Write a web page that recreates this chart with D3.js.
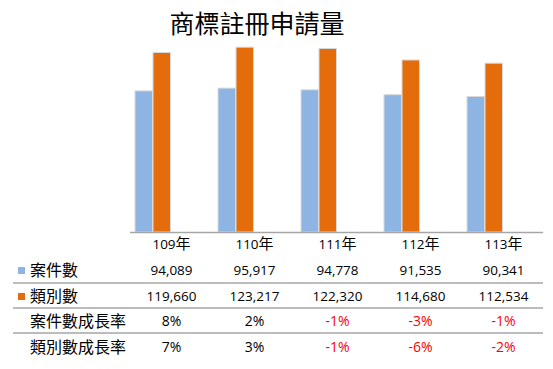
<!DOCTYPE html>
<html><head><meta charset="utf-8">
<script src="https://cdn.jsdelivr.net/npm/d3@7"></script>
<style>body{margin:0;background:#fff}</style>
</head><body>
<script>
const years = ["109", "110", "111", "112", "113"];
const yearSuffix = "年";
const cases = [94089, 95917, 94778, 91535, 90341];
const classes = [119660, 123217, 122320, 114680, 112534];
const caseGrowth = [8, 2, -1, -3, -1];
const classGrowth = [7, 3, -1, -6, -2];
const seriesNames = ["案件數", "類別數"];
const growthNames = ["案件數成長率", "類別數成長率"];
const title = "商標註冊申請量";
const colors = ["#8DB4E2", "#E46C0A"];

const W = 553, H = 369;
const svg = d3.select("body").append("svg").attr("width", W).attr("height", H);
const cjk = "'Noto Sans CJK TC', sans-serif";
const num = "'Open Sans', 'Noto Sans CJK TC', sans-serif";

svg.append("text").attr("x", 257).attr("y", 33).attr("text-anchor", "middle")
  .attr("font-family", cjk).attr("font-size", 25).attr("font-weight", 400).attr("fill", "#000").text(title);

const x = d3.scaleBand().domain(years).range([130, 545]).padding(0);
const xi = d3.scaleBand().domain([0, 1]).range([5, 41]).padding(0);
const y = d3.scaleLinear().domain([0, 140000]).range([232, 22]);

const series = [cases, classes];
series.forEach((vals, si) => {
  svg.append("g").selectAll("rect").data(vals).join("rect")
    .attr("x", (d, i) => x(years[i]) + xi(si))
    .attr("width", xi.bandwidth() - 0.5)
    .attr("y", d => y(d))
    .attr("height", d => y(0) - y(d))
    .attr("fill", colors[si])
    .attr("stroke", "#d9d9d9").attr("stroke-width", 1);
});

// axis line
svg.append("line").attr("x1", 130).attr("x2", 543).attr("y1", 232.5).attr("y2", 232.5)
  .attr("stroke", "#a6a6a6").attr("stroke-width", 1.5);

// table row separators
[283, 308, 333].forEach(yy => {
  svg.append("line").attr("x1", 13).attr("x2", 543).attr("y1", yy).attr("y2", yy)
    .attr("stroke", "#a6a6a6").attr("stroke-width", 1.5);
});

const cx = d => x(d) + x.bandwidth() / 2;
// year row
const yr = svg.append("g").selectAll("text").data(years).join("text")
  .attr("x", d => cx(d)).attr("y", 249).attr("text-anchor", "middle").attr("fill", "#000");
yr.append("tspan").attr("font-family", num).attr("font-size", 13.5).text(d => d);
yr.append("tspan").attr("font-family", cjk).attr("font-size", 15).text(yearSuffix);

const rowY = [275, 301];
series.forEach((vals, si) => {
  svg.append("rect").attr("x", 18).attr("y", rowY[si] - 8).attr("width", 7).attr("height", 7).attr("fill", colors[si]);
  svg.append("text").attr("x", 30).attr("y", rowY[si] + 1).attr("font-family", cjk).attr("font-size", 16).attr("fill", "#000").text(seriesNames[si]);
  svg.append("g").selectAll("text").data(vals).join("text")
    .attr("x", (d, i) => cx(years[i])).attr("y", rowY[si]).attr("text-anchor", "middle")
    .attr("font-family", num).attr("font-size", 13.5).attr("fill", "#000")
    .text(d => d3.format(",")(d));
});

const gY = [326, 352];
[caseGrowth, classGrowth].forEach((vals, gi) => {
  svg.append("text").attr("x", 30).attr("y", gY[gi] + 1).attr("font-family", cjk).attr("font-size", 16).attr("fill", "#000").text(growthNames[gi]);
  svg.append("g").selectAll("text").data(vals).join("text")
    .attr("x", (d, i) => cx(years[i])).attr("y", gY[gi]).attr("text-anchor", "middle")
    .attr("font-family", num).attr("font-size", 14)
    .attr("fill", d => d < 0 ? "#ff0000" : "#000")
    .text(d => d + "%");
});
</script>
</body></html>
